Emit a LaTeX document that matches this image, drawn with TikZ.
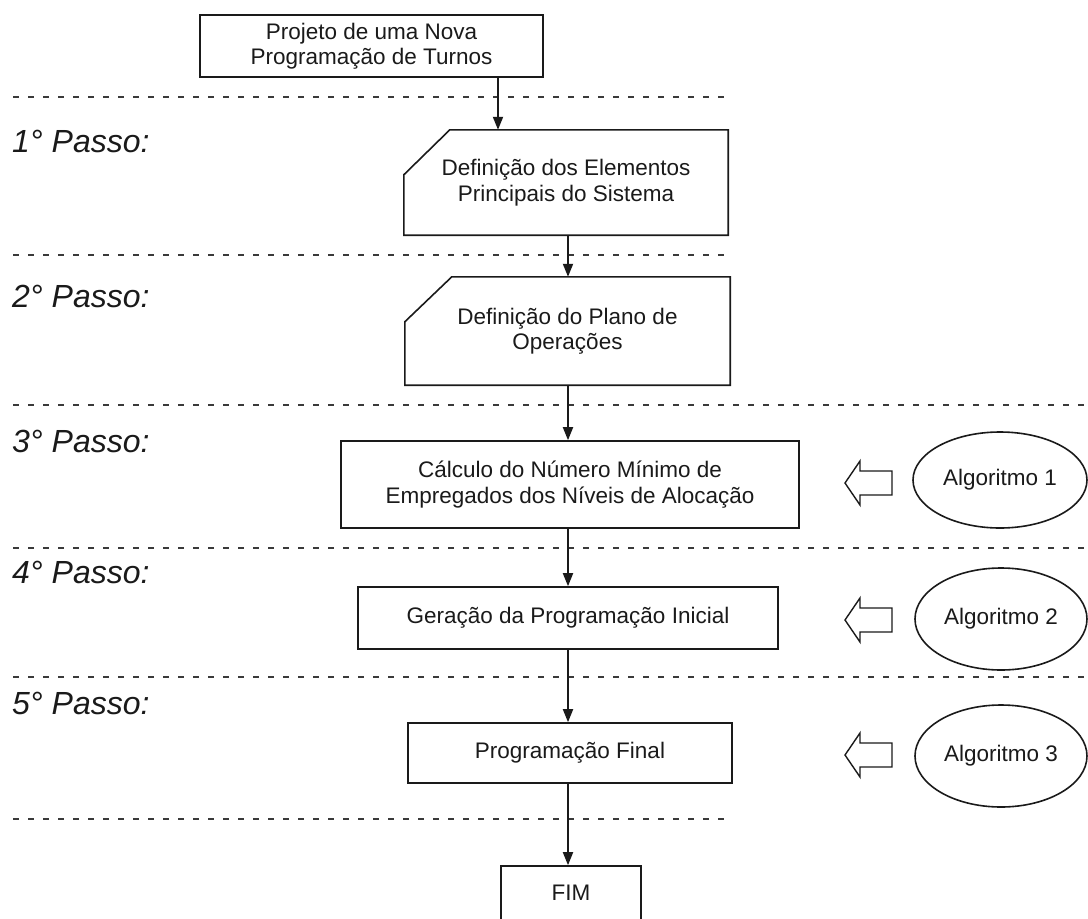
\documentclass[tikz,border=0pt]{standalone}
\usepackage{fontspec}
\setmainfont{Liberation Sans}
\usetikzlibrary{arrows.meta,calc,shapes.geometric}
\definecolor{ink}{HTML}{1A1A1A}
\definecolor{rule}{HTML}{3A3A3A}
\begin{document}
\begin{tikzpicture}[x=1pt,y=-1pt,
  every node/.style={inner sep=0pt, font=\fontsize{22.5}{25.5}\selectfont, text=ink},
  procbox/.style={draw=ink, line width=1.6pt, align=center},
  cutbox/.style={align=center},
  outline/.style={draw=ink, line width=1.6pt, line join=miter},
  algo/.style={draw=ink, line width=1.6pt, ellipse},
  flow/.style={draw=ink, line width=1.8pt, -{Triangle[length=13pt,width=10pt]}},
  hollow/.style={draw=ink, line width=1.4pt, fill=white, line join=miter},
  divider/.style={draw=rule, line width=1.3pt, dash pattern=on 6pt off 9pt},
  steplabel/.style={anchor=base west, font=\fontsize{32}{38}\selectfont\itshape}]

\useasboundingbox (0,0) rectangle (1088,919);

% step separators
\draw[divider] (13,97)  -- (727,97);
\draw[divider] (13,255) -- (730,255);
\draw[divider] (13,405) -- (1088,405);
\draw[divider] (13,548) -- (1088,548);
\draw[divider] (13,677) -- (1088,677);
\draw[divider] (13,819) -- (730,819);

% step labels
\node[steplabel] (p1) at (12,152) {1° Passo:};
\node[steplabel] (p2) at (12,307) {2° Passo:};
\node[steplabel] (p3) at (12,452) {3° Passo:};
\node[steplabel] (p4) at (12,583) {4° Passo:};
\node[steplabel] (p5) at (12,714) {5° Passo:};

% process blocks
\node[procbox, minimum width=343pt, minimum height=62pt] (top) at (371.5,46)
  {Projeto de uma Nova\\Programação de Turnos};

\node[cutbox, minimum width=324pt, minimum height=105pt] (b2) at (566,182.5)
  {Definição dos Elementos\\Principais do Sistema};
\draw[outline] ($(b2.north west)+(46,0)$) -- (b2.north east) -- (b2.south east)
  -- (b2.south west) -- ($(b2.north west)+(0,45)$) -- cycle;

\node[cutbox, minimum width=325pt, minimum height=108pt] (b3) at (567.5,331)
  {Definição do Plano de\\Operações};
\draw[outline] ($(b3.north west)+(47,0)$) -- (b3.north east) -- (b3.south east)
  -- (b3.south west) -- ($(b3.north west)+(0,45)$) -- cycle;

\node[procbox, minimum width=458pt, minimum height=87pt] (b4) at (570,484.5)
  {Cálculo do Número Mínimo de\\Empregados dos Níveis de Alocação};

\node[procbox, minimum width=420pt, minimum height=62pt] (b5) at (568,618)
  {Geração da Programação Inicial};

\node[procbox, minimum width=324pt, minimum height=60pt] (b6) at (570,753)
  {Programação Final};

\node[procbox, minimum width=140pt, minimum height=54pt] (fim) at (571,893)
  {FIM};

% algorithms
\node[algo, minimum width=174pt, minimum height=96pt] (alg1) at (1000,480) {Algoritmo 1};
\node[algo, minimum width=172pt, minimum height=102pt] (alg2) at (1001,619) {Algoritmo 2};
\node[algo, minimum width=172pt, minimum height=102pt] (alg3) at (1001,756) {Algoritmo 3};

% hollow arrows pointing from each algorithm to its block
\foreach \yy in {483,620,755}{
  \draw[hollow] (845,\yy) -- (860,\yy-22) -- (860,\yy-12) -- (892,\yy-12)
    -- (892,\yy+12) -- (860,\yy+12) -- (860,\yy+22) -- cycle;
}

% flow connectors
\coordinate (a1) at (498,0);
\coordinate (a2) at (568,0);
\draw[flow] (top.south -| a1) -- (b2.north -| a1);
\draw[flow] (b2.south -| a2) -- (b3.north -| a2);
\draw[flow] (b3.south -| a2) -- (b4.north -| a2);
\draw[flow] (b4.south -| a2) -- (b5.north -| a2);
\draw[flow] (b5.south -| a2) -- (b6.north -| a2);
\draw[flow] (b6.south -| a2) -- (fim.north -| a2);
\end{tikzpicture}
\end{document}
